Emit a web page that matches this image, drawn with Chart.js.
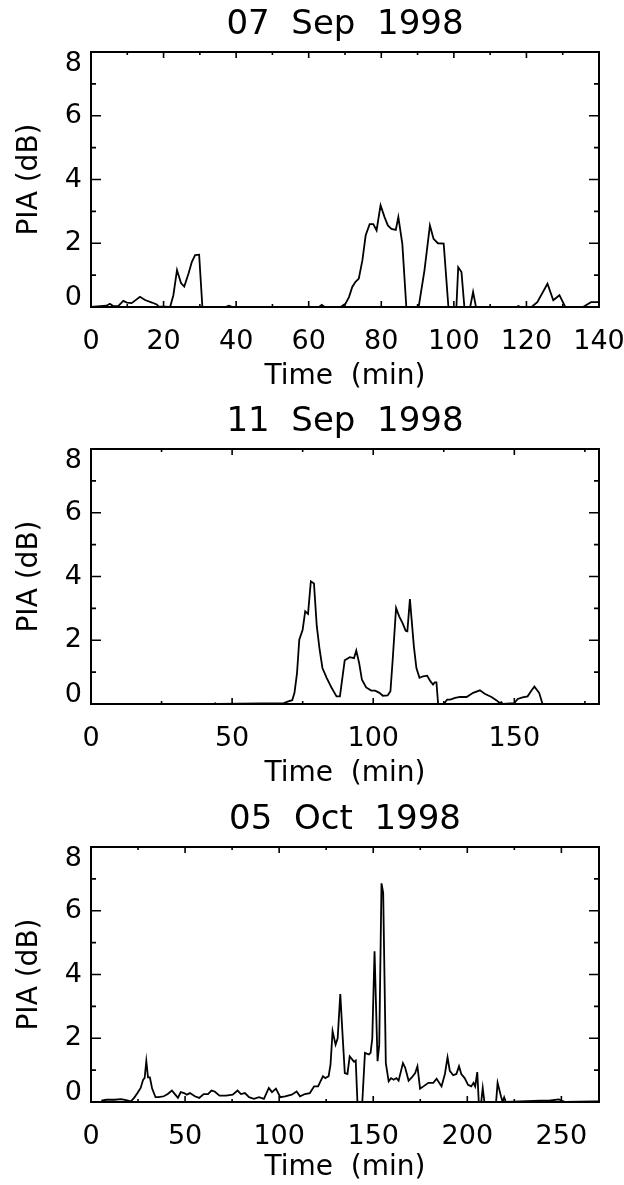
<!DOCTYPE html>
<html>
<head>
<meta charset="utf-8">
<script src="https://cdn.jsdelivr.net/npm/chart.js@4.4.0/dist/chart.umd.min.js"></script>
<style>
  body { margin: 0; background: #fff; overflow: hidden; }
  canvas { display: block; }
</style>
</head>
<body>
<canvas id="c1" width="624" height="397"></canvas>
<canvas id="c2" width="624" height="398"></canvas>
<canvas id="c3" width="624" height="390"></canvas>
<script>
// panel titles (dates)
const titles = ['07  Sep  1998', '11  Sep  1998', '05  Oct  1998'];

// 07 Sep 1998
const time1 = [0, 4.3, 5.2, 6.1, 7.5, 8.9, 9.9, 11.2, 13.5, 14.9,
  16.8, 18.1, 18.6, 21.8, 22.7, 23.7, 24.8, 25.7, 26.9, 27.8,
  28.7, 29.8, 30.7, 37, 38, 39, 62.8, 63.6, 64.4, 68.8,
  70.1, 71.1, 72.0, 72.9, 73.8, 74.8, 75.7, 76.8, 77.8, 78.7,
  79.8, 80.9, 81.8, 82.8, 84.0, 84.7, 85.8, 86.9, 90.3, 91.9,
  93.4, 94.4, 95.6, 97.2, 98.5, 100.7, 101.2, 102.1, 102.9, 104.5,
  105.3, 106.1, 117.2, 117.8, 118.4, 121.4, 123, 125.8, 127.4, 129.1,
  130.7, 135.6, 137.8, 139.5, 140];
const pia1 = [0, 0.04, 0.1, 0.03, 0.03, 0.19, 0.14, 0.12, 0.32, 0.22,
  0.14, 0.08, 0.02, 0, 0.37, 1.16, 0.75, 0.64, 1.06, 1.42,
  1.63, 1.64, 0, 0, 0.04, 0, 0, 0.07, 0, 0,
  0.1, 0.31, 0.63, 0.79, 0.89, 1.47, 2.25, 2.6, 2.6, 2.4,
  3.19, 2.82, 2.56, 2.45, 2.42, 2.82, 1.98, 0, 0, 1.15,
  2.56, 2.14, 2.0, 1.99, 0, 0, 1.25, 1.1, 0, 0,
  0.47, 0, 0, 0.03, 0, 0, 0.15, 0.73, 0.21, 0.37,
  0, 0, 0.15, 0.15, 0.15];

// 11 Sep 1998
const time2 = [0, 43.5, 44, 44.5, 68.3, 69.9, 71.3, 72.1, 73.0, 73.8,
  75.0, 75.9, 76.9, 77.9, 79.0, 80.0, 81.0, 82.0, 83.5, 85.3,
  87.0, 88.2, 89.9, 91.7, 93.2, 94.0, 95.0, 96.0, 97.5, 99.3,
  100.7, 102.2, 103.4, 105.1, 106.1, 106.9, 108.1, 109.2, 110.4, 111.5,
  112.1, 113.0, 114.4, 115.3, 116.4, 117.7, 119.1, 120.3, 121.2, 121.8,
  122.4, 123.0, 125, 126.2, 127.3, 129.0, 130.8, 133.1, 135.4, 137.8,
  139.5, 141.9, 143.6, 144.8, 145.4, 145.9, 150.0, 151.2, 152.9, 154.7,
  155.9, 157.1, 158.8, 160.0];
const pia2 = [0, 0, 0.02, 0, 0.03, 0.08, 0.12, 0.35, 0.97, 2.02,
  2.33, 2.91, 2.83, 3.85, 3.78, 2.44, 1.71, 1.13, 0.82, 0.5,
  0.24, 0.24, 1.37, 1.47, 1.44, 1.68, 1.29, 0.76, 0.52, 0.42,
  0.42, 0.35, 0.26, 0.27, 0.4, 1.39, 3.01, 2.75, 2.54, 2.3,
  2.28, 3.29, 1.81, 1.13, 0.82, 0.87, 0.89, 0.71, 0.61, 0.68,
  0.68, 0, 0, 0.14, 0.14, 0.19, 0.22, 0.22, 0.35, 0.43,
  0.32, 0.22, 0.12, 0.03, 0.06, 0, 0.03, 0.16, 0.21, 0.24,
  0.4, 0.55, 0.35, 0];

// 05 Oct 1998
const time3 = [5.5, 8.1, 12.5, 16.0, 18.6, 21.2, 22.9, 24.7, 26.4, 27.7,
  28.5, 29.4, 30.3, 31.3, 32.5, 34.3, 36.0, 38.7, 40.8, 43.0,
  44.8, 46.2, 47.7, 49.5, 50.9, 52.6, 55.2, 57.5, 59.9, 62.2,
  64.0, 65.7, 68.3, 71.8, 75.3, 77.9, 79.7, 81.8, 84.0, 86.6,
  89.3, 91.9, 94.5, 96.2, 98.3, 100.6, 103.2, 106.7, 109.3, 111.1,
  113.7, 116.3, 118.6, 120.7, 123.3, 124.5, 126.3, 127.3, 128.4, 130.0,
  131.1, 132.5, 133.7, 134.9, 136.3, 137.5, 138.9, 139.8, 140.7, 141.6,
  144.2, 145.6, 147.7, 148.6, 149.5, 150.7, 152.3, 153.2, 154.4, 155.3,
  156.7, 158.2, 159.5, 160.9, 162.3, 163.5, 165.8, 167.0, 168.8, 170.5,
  172.3, 173.5, 174.9, 176.7, 179.3, 181.9, 183.7, 186.3, 188.1, 189.5,
  190.7, 192.5, 194.2, 195.6, 196.8, 198.6, 200.4, 202.1, 203.3, 204.2,
  205.3, 206.1, 207.4, 208.2, 209.1, 215.3, 216.1, 217.9, 218.8, 219.6,
  220.5, 238.9, 243.3, 248.6, 250.4, 252, 267, 270];
const pia3 = [0.04, 0.07, 0.07, 0.09, 0.06, 0.02, 0.13, 0.28, 0.44, 0.7,
  0.75, 1.28, 0.77, 0.77, 0.42, 0.15, 0.15, 0.18, 0.25, 0.36,
  0.23, 0.13, 0.31, 0.28, 0.23, 0.28, 0.18, 0.13, 0.25, 0.25,
  0.36, 0.33, 0.2, 0.2, 0.23, 0.36, 0.25, 0.28, 0.15, 0.1,
  0.15, 0.1, 0.44, 0.31, 0.42, 0.15, 0.18, 0.23, 0.33, 0.18,
  0.25, 0.28, 0.49, 0.49, 0.81, 0.75, 0.81, 1.17, 2.22, 1.8,
  2.0, 3.39, 2.11, 0.91, 0.88, 1.43, 1.33, 1.26, 1.3, 0,
  0, 1.54, 1.49, 1.54, 2.0, 4.73, 1.28, 1.8, 6.86, 6.56,
  1.22, 0.65, 0.75, 0.7, 0.75, 0.67, 1.22, 1.07, 0.67, 0.77,
  0.91, 1.12, 0.42, 0.49, 0.6, 0.6, 0.73, 0.49, 0.88, 1.4,
  0.98, 0.84, 0.88, 1.12, 0.88, 0.75, 0.54, 0.49, 0.6, 0.49,
  0.94, 0, 0, 0.44, 0, 0, 0.6, 0.18, 0, 0.15,
  0, 0.04, 0.04, 0.08, 0.04, 0, 0.02, 0.02];

// axis ticks
const xMax = [140, 180, 270];
const xLabels1 = [0, 20, 40, 60, 80, 100, 120, 140];
const xMinor1 = [10, 30, 50, 70, 90, 110, 130];
const xLabels2 = [0, 50, 100, 150];
const xMinor2 = [25, 75, 125, 175];
const xLabels3 = [0, 50, 100, 150, 200, 250];
const xMinor3 = [25, 75, 125, 175, 225];
const yLabels = [0, 2, 4, 6, 8];
const yMinor = [1, 3, 5, 7];

const FONT = 'DejaVu Sans';

// box around the plot with inward ticks, IDL style
const framePlugin = {
  id: 'frame',
  beforeDraw(chart) {
    // keep the end labels of the y axis inside the box
    const y = chart.scales.y;
    y.getLabelItems().forEach(it => {
      if (it._moved) return;
      if (it.label === '0') it.options.translation[1] -= 9.5;
      if (it.label === '8') it.options.translation[1] += 12;
      it._moved = true;
    });
  },
  afterDatasetsDraw(chart, args, opts) {
    const { ctx, chartArea: a, scales: { x, y } } = chart;
    ctx.save();
    ctx.strokeStyle = '#000';
    ctx.lineWidth = 1.6;
    ctx.beginPath();
    const xt = (v, len) => {
      const px = x.getPixelForValue(v);
      ctx.moveTo(px, a.bottom); ctx.lineTo(px, a.bottom - len);
      ctx.moveTo(px, a.top); ctx.lineTo(px, a.top + len);
    };
    const yt = (v, len) => {
      const py = y.getPixelForValue(v);
      ctx.moveTo(a.left, py); ctx.lineTo(a.left + len, py);
      ctx.moveTo(a.right, py); ctx.lineTo(a.right - len, py);
    };
    opts.xMajor.forEach(v => xt(v, 6));
    opts.xMinor.forEach(v => xt(v, 3));
    yLabels.forEach(v => yt(v, 10));
    yMinor.forEach(v => yt(v, 5));
    ctx.stroke();
    ctx.lineWidth = 2;
    ctx.strokeRect(a.left, a.top, a.right - a.left, a.bottom - a.top);
    ctx.restore();
  }
};

function makeChart(id, i, time, pia, xLabels, xMinor, xHeight, titlePad) {
  new Chart(document.getElementById(id), {
    type: 'line',
    data: {
      datasets: [{
        data: time.map((t, k) => ({ x: t, y: pia[k] })),
        borderColor: '#000',
        borderWidth: 1.8,
        pointRadius: 0,
        tension: 0,
        fill: false
      }]
    },
    options: {
      responsive: false,
      animation: false,
      events: [],
      layout: { padding: { left: 0, right: 25, top: 0, bottom: 0 } },
      scales: {
        x: {
          type: 'linear',
          min: 0,
          max: xMax[i],
          afterBuildTicks: s => { s.ticks = xLabels.map(v => ({ value: v })); },
          afterFit: s => { s.height = xHeight; s.paddingLeft = 0; s.paddingRight = 0; },
          ticks: { color: '#000', font: { family: FONT, size: 27 }, padding: 19, maxRotation: 0, autoSkip: false },
          grid: { display: false, drawTicks: false },
          border: { display: false },
          title: {
            display: true,
            text: 'Time  (min)',
            color: '#000',
            font: { family: FONT, size: 28 },
            padding: { top: 0, bottom: titlePad }
          }
        },
        y: {
          min: 0,
          max: 8,
          afterBuildTicks: s => { s.ticks = yLabels.map(v => ({ value: v })); },
          afterFit: s => { s.width = 91; s.paddingTop = 0; s.paddingBottom = 0; },
          ticks: { color: '#000', font: { family: FONT, size: 27 }, padding: 9 },
          grid: { display: false, drawTicks: false },
          border: { display: false },
          title: {
            display: true,
            text: 'PIA (dB)',
            color: '#000',
            font: { family: FONT, size: 28 },
            padding: { top: 13, bottom: 0 }
          }
        }
      },
      plugins: {
        legend: { display: false },
        tooltip: { enabled: false },
        title: {
          display: true,
          fullSize: false,
          text: titles[i],
          color: '#000',
          font: { family: FONT, size: 34, weight: 'normal' },
          padding: { top: 5, bottom: 6.2 }
        },
        frame: { xMajor: xLabels, xMinor: xMinor }
      }
    },
    plugins: [framePlugin]
  });
}

makeChart('c1', 0, time1, pia1, xLabels1, xMinor1, 90, 3.4);
makeChart('c2', 1, time2, pia2, xLabels2, xMinor2, 91, 4.4);
makeChart('c3', 2, time3, pia3, xLabels3, xMinor3, 83, 0.5);
</script>
</body>
</html>
